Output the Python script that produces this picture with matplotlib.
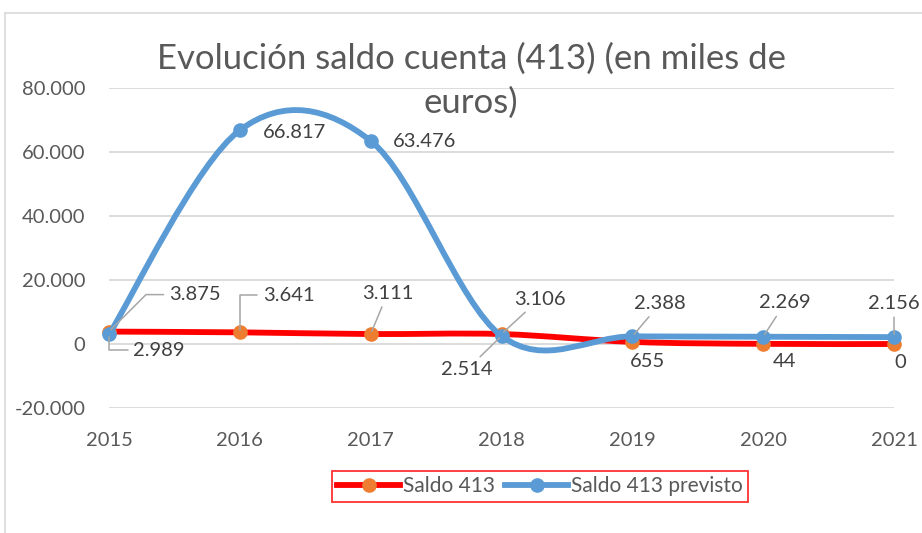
import matplotlib
matplotlib.use("Agg")
import matplotlib.pyplot as plt
from matplotlib.path import Path
from matplotlib.patches import PathPatch
from matplotlib.lines import Line2D
from matplotlib.ticker import FuncFormatter, MultipleLocator

# ---- data ----
years = [2015, 2016, 2017, 2018, 2019, 2020, 2021]
saldo_413 = [3875, 3641, 3111, 3106, 655, 44, 0]
saldo_413_previsto = [2989, 66817, 63476, 2514, 2388, 2269, 2156]
series_names = ["Saldo 413", "Saldo 413 previsto"]
title = "Evolución saldo cuenta (413) (en miles de\neuros)"

# ---- styles ----
FONT = "Lato"
plt.rcParams["font.family"] = [FONT, "DejaVu Sans"]
RED = "#FF0000"
ORANGE = "#ED7D31"
BLUE = "#5B9BD5"
GRID = "#D9D9D9"
TICK = "#595959"
LABEL = "#404040"
LEADER = "#A6A6A6"
FS = 14.5

W, H = 922, 533
fig = plt.figure(figsize=(W / 100, H / 100), dpi=100)
fig.patch.set_facecolor("white")

# chart area border (light gray, top and left visible)
fig.add_artist(Line2D([5 / W, 5 / W], [1 - 13 / H, 0], color=GRID, lw=1.2))
fig.add_artist(Line2D([5 / W, 1], [1 - 13 / H, 1 - 13 / H], color=GRID, lw=1.2))

ax = fig.add_axes([109 / W, (H - 408) / H, 785 / W, 320 / H])
ax.set_xlim(2015, 2021)
ax.set_ylim(-20000, 80000)
ax.yaxis.set_major_locator(MultipleLocator(20000))
ax.set_xticks(years)
ax.set_xticklabels([str(y) for y in years])
ax.yaxis.set_major_formatter(FuncFormatter(lambda v, p: f"{int(v):,}".replace(",", ".")))
for s in ax.spines.values():
    s.set_visible(False)
ax.tick_params(axis="both", length=0, labelsize=FS, labelcolor=TICK)
ax.tick_params(axis="y", pad=17)
ax.tick_params(axis="x", pad=17)
ax.grid(axis="y", color=GRID, lw=1.3)
ax.set_axisbelow(True)
ax.set_facecolor("none")


def smooth_path(xs, ys):
    pts = list(zip(xs, ys))
    n = len(pts)
    verts = [pts[0]]
    codes = [Path.MOVETO]
    for i in range(n - 1):
        p_prev = pts[i - 1] if i > 0 else pts[i]
        p0 = pts[i]
        p1 = pts[i + 1]
        p_next = pts[i + 2] if i + 2 < n else pts[i + 1]
        c1 = (p0[0] + (p1[0] - p_prev[0]) / 6, p0[1] + (p1[1] - p_prev[1]) / 6)
        c2 = (p1[0] - (p_next[0] - p0[0]) / 6, p1[1] - (p_next[1] - p0[1]) / 6)
        verts += [c1, c2, p1]
        codes += [Path.CURVE4] * 3
    return Path(verts, codes)


LW = 4.2
MS = 9.5
for vals, lc, mc, z in [(saldo_413, RED, ORANGE, 3), (saldo_413_previsto, BLUE, BLUE, 5)]:
    patch = PathPatch(smooth_path(years, vals), fill=False, edgecolor=lc, lw=LW,
                      capstyle="round", joinstyle="round", zorder=z)
    ax.add_patch(patch)
    ax.plot(years, vals, "o", color=mc, ms=MS, mec=mc, zorder=z + 0.5, clip_on=False)

# label offsets (pixels, y up) and leader styles
red_offsets = [(86, 37), (49, 37), (17, 41), (38, 35), (15, -20), (21, -18), (6, -18)]
red_leaders = ["angle,angleA=0,angleB=45", "angle,angleA=0,angleB=90", "arc3", "arc3",
               None, None, None]
blue_offsets = [(50, -16), (55, -2), (54, -1), (-35, -34), (28, 33), (22, 34), (0, 34)]
blue_leaders = ["angle,angleA=0,angleB=90", None, None, "arc3", "arc3", "arc3", "arc3"]


def fmt(v):
    return f"{v:,}".replace(",", ".")


for vals, offs, leads in [(saldo_413, red_offsets, red_leaders),
                          (saldo_413_previsto, blue_offsets, blue_leaders)]:
    for x, v, off, ld in zip(years, vals, offs, leads):
        kw = {}
        if ld is not None:
            kw["arrowprops"] = dict(arrowstyle="-", color=LEADER, lw=1.1,
                                    connectionstyle=ld, shrinkA=2, shrinkB=2)
        ax.annotate(fmt(v), xy=(x, v), xytext=off, textcoords="offset pixels",
                    ha="center", va="center", fontsize=FS, color=LABEL,
                    annotation_clip=False, zorder=10, **kw)

fig.text(471 / W, 1 - 81 / H, title, ha="center", va="center", fontsize=25,
         color=TICK, linespacing=1.46)

handles = [Line2D([], [], color=RED, lw=LW, marker="o", ms=MS, mfc=ORANGE, mec=ORANGE),
           Line2D([], [], color=BLUE, lw=LW, marker="o", ms=MS, mfc=BLUE, mec=BLUE)]
leg = fig.legend(handles, series_names, loc="center",
                 bbox_to_anchor=(540 / W, 1 - 486.5 / H), ncol=2, frameon=True,
                 fancybox=False, fontsize=15, handlelength=3.0, handletextpad=0.15,
                 columnspacing=0.5, borderpad=0.25, borderaxespad=0)
leg.get_frame().set_edgecolor(RED)
leg.get_frame().set_linewidth(1.3)
for t in leg.get_texts():
    t.set_color(TICK)

fig.savefig("out.png", dpi=100)
